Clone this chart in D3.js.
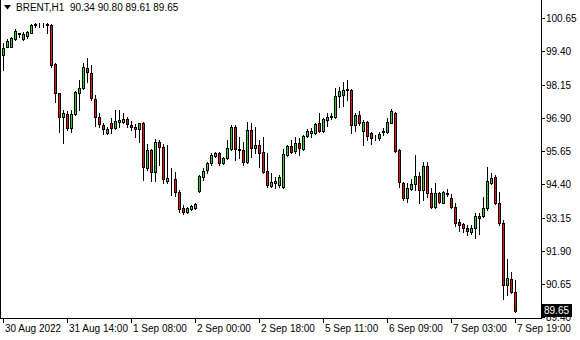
<!DOCTYPE html>
<html>
<head>
<meta charset="utf-8">
<script src="https://cdn.jsdelivr.net/npm/d3@7"></script>
<style>
  html, body { margin: 0; padding: 0; background: #fff; }
  svg { display: block; font-family: "Liberation Sans", Arial, sans-serif; }
</style>
</head>
<body>
<svg id="chart" width="580" height="340"></svg>
<script>
// BRENT H1 candles (oldest first).
const open = [
  99.26, 99.57, 99.57, 99.85, 100.05, 99.85, 99.97, 100.10, 100.39, 100.41,
  100.42, 100.39, 100.39, 98.92, 97.82, 96.93, 97.04, 96.50, 97.04, 97.84,
  98.01, 98.76, 98.59, 97.59, 96.92, 96.62, 96.34, 96.69, 96.50, 96.75,
  96.75, 96.84, 96.63, 96.56, 96.47, 96.69, 95.00, 95.69, 94.87, 95.99,
  95.81, 94.53, 94.61, 94.59, 94.12, 93.50, 93.37, 93.46, 93.50, 94.16,
  94.68, 94.93, 95.19, 95.47, 95.59, 95.21, 95.37, 95.71, 96.56, 95.71,
  95.69, 95.25, 96.44, 95.75, 95.88, 95.62, 94.91, 94.33, 94.52, 94.37,
  94.29, 95.50, 95.84, 95.66, 95.96, 95.72, 96.21, 96.34, 96.31, 96.69,
  96.41, 96.81, 96.92, 96.92, 97.72, 97.75, 97.96, 97.94, 96.63, 97.00,
  96.41, 96.75, 96.31, 96.13, 96.13, 96.38, 96.38, 96.71, 97.09, 95.69,
  94.46, 93.87, 94.21, 94.41, 94.71, 94.18, 95.09, 94.08, 93.53, 94.08,
  93.71, 94.06, 93.87, 93.56, 92.98, 92.89, 92.77, 92.61, 92.74, 93.21,
  93.21, 93.50, 94.46, 94.66, 93.71, 92.93, 90.61, 90.83, 90.34
];
const high = [
  99.72, 99.85, 99.95, 100.23, 100.10, 100.13, 100.17, 100.42, 100.46, 100.47,
  100.47, 100.47, 100.42, 98.97, 97.84, 97.19, 97.16, 97.19, 97.91, 98.32,
  98.95, 99.13, 98.88, 97.75, 97.07, 96.69, 96.54, 96.88, 97.19, 97.19,
  97.07, 96.94, 96.79, 96.66, 96.71, 96.75, 95.91, 95.71, 96.09, 96.06,
  95.91, 95.88, 95.00, 94.87, 94.18, 93.62, 93.56, 93.62, 93.68, 94.75,
  95.00, 95.25, 95.56, 95.62, 95.62, 95.43, 96.06, 96.63, 96.63, 96.19,
  96.00, 96.75, 96.69, 96.56, 96.06, 96.19, 95.57, 94.81, 94.66, 94.75,
  95.71, 95.88, 96.06, 96.19, 96.13, 96.25, 96.47, 96.50, 96.71, 97.07,
  96.88, 97.09, 97.09, 98.01, 98.07, 98.25, 98.32, 97.97, 97.09, 97.16,
  96.81, 96.79, 96.38, 96.25, 96.38, 96.50, 96.88, 97.22, 97.13, 95.71,
  94.50, 94.44, 94.59, 95.50, 94.87, 95.25, 95.25, 94.25, 94.44, 94.12,
  94.16, 94.21, 94.03, 93.68, 93.08, 92.93, 92.87, 92.87, 93.33, 93.33,
  93.93, 95.04, 94.83, 94.75, 94.12, 93.06, 91.58, 91.11, 90.80
];
const low = [
  98.70, 99.55, 99.55, 99.82, 99.95, 99.82, 99.89, 100.07, 100.33, 100.32,
  100.30, 100.07, 98.82, 97.50, 96.38, 95.95, 96.44, 96.38, 97.00, 97.19,
  97.97, 98.25, 97.57, 96.59, 96.56, 96.29, 96.29, 96.34, 96.47, 96.56,
  96.69, 96.56, 96.44, 96.19, 96.00, 94.56, 94.93, 94.53, 94.53, 95.12,
  94.46, 94.46, 93.98, 93.96, 93.37, 93.28, 93.33, 93.43, 93.47, 94.12,
  94.56, 94.81, 95.12, 95.43, 95.12, 95.16, 95.34, 95.69, 95.31, 95.37,
  95.12, 95.19, 95.43, 95.59, 95.06, 94.82, 94.31, 94.29, 94.25, 94.31,
  94.25, 95.46, 95.56, 95.59, 95.50, 95.69, 96.19, 96.19, 96.29, 96.38,
  96.38, 96.59, 96.84, 96.88, 97.32, 97.34, 97.57, 96.31, 96.41, 96.63,
  95.88, 96.06, 95.91, 96.06, 96.06, 96.25, 96.34, 96.69, 95.62, 94.31,
  93.81, 93.74, 94.18, 94.18, 93.69, 93.81, 93.93, 93.50, 93.50, 93.71,
  93.68, 93.94, 93.50, 92.83, 92.65, 92.61, 92.49, 92.53, 92.37, 92.53,
  93.16, 93.43, 94.41, 93.66, 92.87, 90.07, 90.24, 90.32, 89.61
];
const close = [
  99.52, 99.80, 99.90, 100.17, 100.07, 100.05, 100.13, 100.39, 100.41, 100.42,
  100.41, 100.42, 98.88, 97.82, 96.92, 97.08, 96.50, 97.04, 97.88, 98.03,
  98.80, 98.63, 97.63, 96.92, 96.66, 96.47, 96.47, 96.50, 96.79, 96.81,
  96.84, 96.66, 96.54, 96.47, 96.69, 95.04, 95.69, 94.87, 95.99, 95.81,
  94.59, 94.63, 94.59, 94.12, 93.46, 93.37, 93.50, 93.58, 93.65, 94.71,
  94.90, 95.19, 95.50, 95.59, 95.21, 95.37, 95.75, 96.56, 95.71, 95.70,
  95.25, 96.44, 95.75, 95.88, 95.59, 94.87, 94.37, 94.50, 94.44, 94.68,
  95.54, 95.84, 95.62, 95.96, 95.75, 96.21, 96.40, 96.40, 96.66, 96.41,
  96.84, 96.94, 96.97, 97.72, 97.89, 97.94, 97.98, 96.63, 97.00, 96.69,
  96.75, 96.21, 96.13, 96.12, 96.29, 96.39, 96.75, 97.16, 95.66, 94.50,
  93.87, 94.25, 94.41, 94.71, 94.18, 95.09, 94.08, 93.53, 94.08, 93.74,
  94.12, 94.05, 93.56, 92.95, 92.87, 92.74, 92.65, 92.74, 93.21, 93.12,
  93.50, 94.53, 94.62, 93.71, 92.93, 90.61, 90.86, 90.36, 89.65
];

const priceTicks = [100.65, 99.40, 98.15, 96.90, 95.65, 94.40, 93.15, 91.90, 90.65, 89.40];
const timeLabels = ['30 Aug 2022', '31 Aug 14:00', '1 Sep 08:00', '2 Sep 00:00', '2 Sep 18:00',
                    '5 Sep 11:00', '6 Sep 09:00', '7 Sep 03:00', '7 Sep 19:00'];
const timeLabelBars = [0, 16, 32, 48, 64, 80, 96, 112, 128];

const symbol = 'BRENT,H1';
const lastPrice = close[close.length - 1];

const bullColour = '#33cc33';
const bearColour = '#ee1111';

const svg = d3.select('#chart');
const plotRight = 541;   // x of the price-axis line
const plotBottom = 318;  // y of the time-axis line

const bars = open.map((o, i) => ({ i, o, h: high[i], l: low[i], c: close[i] }));

const x = d3.scaleLinear().domain([0, bars.length - 1]).range([3, 515]);
const y = d3.scaleLinear().domain([100.65, 89.40]).range([18, 317.25]);
const col = i => Math.round(x(i));
const row = p => Math.round(y(p));

// frame: left edge, bottom axis, price axis
const frame = svg.append('g').attr('stroke', '#000').attr('shape-rendering', 'crispEdges');
frame.append('line').attr('x1', 0.5).attr('x2', 0.5).attr('y1', 0).attr('y2', plotBottom + 0.5);
frame.append('line').attr('x1', 0).attr('x2', plotRight + 0.5).attr('y1', plotBottom + 0.5).attr('y2', plotBottom + 0.5);
frame.append('line').attr('x1', plotRight + 0.5).attr('x2', plotRight + 0.5).attr('y1', 0).attr('y2', plotBottom + 0.5);

// candles
const candle = svg.append('g')
  .attr('shape-rendering', 'crispEdges')
  .selectAll('g')
  .data(bars)
  .join('g');

candle.append('line')
  .attr('x1', d => col(d.i) + 0.5).attr('x2', d => col(d.i) + 0.5)
  .attr('y1', d => row(d.h)).attr('y2', d => row(d.l) + 1)
  .attr('stroke', '#000');

candle.append('rect')
  .attr('x', d => col(d.i) - 0.5)
  .attr('y', d => row(Math.max(d.o, d.c)) + 0.5)
  .attr('width', 2)
  .attr('height', d => Math.max(0, row(Math.min(d.o, d.c)) - row(Math.max(d.o, d.c))))
  .attr('fill', d => d.c >= d.o ? bullColour : bearColour)
  .attr('stroke', '#000');

// price axis
const yAxis = svg.append('g').attr('font-size', 10).attr('fill', '#000');
yAxis.selectAll('line')
  .data(priceTicks)
  .join('line')
  .attr('shape-rendering', 'crispEdges')
  .attr('x1', plotRight + 1).attr('x2', plotRight + 4)
  .attr('y1', d => row(d) + 0.5).attr('y2', d => row(d) + 0.5)
  .attr('stroke', '#000');
// the lowest tick label sits half under the last-price box, as in the terminal
yAxis.selectAll('text')
  .data(priceTicks)
  .join('text')
  .attr('x', 546)
  .attr('y', d => row(d) + 3.5)
  .text(d => d.toFixed(2));

// current price box
svg.append('rect')
  .attr('x', 541).attr('y', row(lastPrice) - 7)
  .attr('width', 31).attr('height', 13)
  .attr('fill', '#000');
svg.append('text')
  .attr('x', 544).attr('y', row(lastPrice) + 3)
  .attr('font-size', 10).attr('fill', '#fff')
  .text(lastPrice.toFixed(2));

// time axis
const xAxis = svg.append('g').attr('font-size', 10).attr('fill', '#000');
xAxis.selectAll('line')
  .data(timeLabelBars)
  .join('line')
  .attr('shape-rendering', 'crispEdges')
  .attr('x1', d => col(d) + 0.5).attr('x2', d => col(d) + 0.5)
  .attr('y1', plotBottom + 1).attr('y2', plotBottom + 5)
  .attr('stroke', '#000');
xAxis.selectAll('text')
  .data(timeLabelBars)
  .join('text')
  .attr('x', d => col(d) + 2)
  .attr('y', 332)
  .text((d, k) => timeLabels[k]);

// header: triangle + symbol + last bar OHLC
svg.append('path').attr('d', 'M4,5 L11,5 L7.5,9.5 Z').attr('fill', '#000');
const last = bars[bars.length - 1];
svg.append('text')
  .attr('x', 16).attr('y', 11)
  .attr('font-size', 10).attr('fill', '#000')
  .attr('xml:space', 'preserve')
  .text(`${symbol}  ${[last.o, last.h, last.l, last.c].map(v => v.toFixed(2)).join(' ')}`);
</script>
</body>
</html>
